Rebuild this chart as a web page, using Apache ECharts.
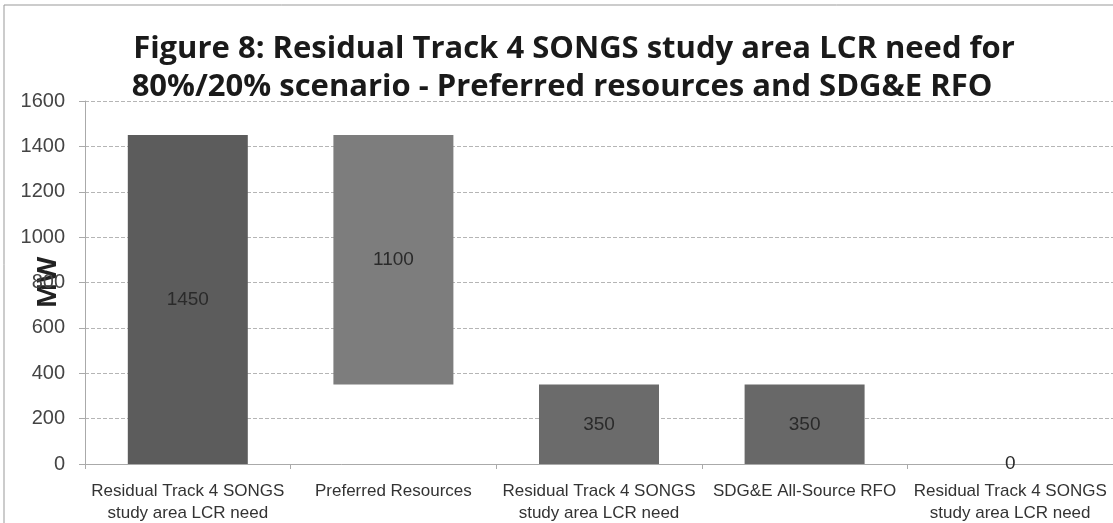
<!DOCTYPE html>
<html>
<head>
<meta charset="utf-8">
<script src="https://cdn.jsdelivr.net/npm/echarts@6/dist/echarts.min.js"></script>
<style>
	html, body { margin: 0; padding: 0; background: #fff; }
	#chart { width: 1113px; height: 523px; }
</style>
</head>
<body>
<div id="chart"></div>
<script>
// categories (x axis)
var categories = [
	'Residual Track 4 SONGS\nstudy area LCR need',
	'Preferred Resources',
	'Residual Track 4 SONGS\nstudy area LCR need',
	'SDG&E All-Source RFO',
	'Residual Track 4 SONGS\nstudy area LCR need'
];
// invisible base of each waterfall step
var baseValues = [0, 350, 0, 0, 0];
// visible step heights
var stepValues = [1450, 1100, 350, 350, 0];
// y tick labels
var yTicks = [0, 200, 400, 600, 800, 1000, 1200, 1400, 1600];

var barColors = ['#5c5c5c', '#7d7d7d', '#6b6b6b', '#686868', '#686868'];
var fontFam = '"Liberation Sans Narrow", "Liberation Sans", sans-serif';
var titleStyle = {
	fontFamily: '"Open Sans", "Noto Sans", sans-serif',
	fontWeight: 'bold',
	fontSize: 31,
	lineHeight: 38,
	color: '#1a1a1a'
};

var myChart = echarts.init(document.getElementById('chart'));

var option = {
	backgroundColor: '#fff',
	animation: false,
	title: [{
		text: 'Figure 8: Residual Track 4 SONGS study area LCR need for',
		left: 569,
		top: 25,
		textAlign: 'center',
		textStyle: titleStyle
	}, {
		text: '80%/20% scenario - Preferred resources and SDG&E RFO',
		left: 557,
		top: 63,
		textAlign: 'center',
		textStyle: titleStyle
	}],
	graphic: [{
		// scanned page frame
		type: 'rect',
		shape: { x: 4, y: 5, width: 1200, height: 600 },
		style: { fill: 'none', stroke: '#999', lineWidth: 1 },
		silent: true
	}],
	grid: {
		left: 85,
		right: 0,
		top: 101,
		bottom: 59,
		containLabel: false,
		outerBoundsMode: 'none'
	},
	xAxis: {
		type: 'category',
		data: categories,
		axisLine: { show: true, lineStyle: { color: '#aaa', width: 1 } },
		axisTick: { show: true, length: 5, lineStyle: { color: '#aaa' } },
		axisLabel: {
			interval: 0,
			margin: 16,
			fontFamily: fontFam,
			fontSize: 17,
			lineHeight: 22,
			color: '#333'
		}
	},
	yAxis: {
		type: 'value',
		min: yTicks[0],
		max: yTicks[yTicks.length - 1],
		interval: 200,
		name: 'MW',
		nameLocation: 'middle',
		nameGap: 23,
		nameRotate: 90,
		nameMoveOverlap: false,
		nameTextStyle: {
			fontFamily: '"Open Sans", "Noto Sans", sans-serif',
			fontWeight: 'bold',
			fontSize: 27,
			color: '#222'
		},
		axisLine: { show: true, lineStyle: { color: '#aaa', width: 1 } },
		axisTick: { show: true, length: 6, lineStyle: { color: '#aaa' } },
		axisLabel: {
			margin: 20,
			fontFamily: fontFam,
			fontSize: 20,
			color: '#444',
			formatter: function (v) { return String(v); }
		},
		splitLine: {
			show: true,
			lineStyle: { color: '#b5b5b5', type: 'dashed', width: 1 }
		}
	},
	series: [{
		name: 'base',
		type: 'bar',
		stack: 'wf',
		barWidth: 120,
		itemStyle: { color: 'transparent' },
		emphasis: { disabled: true },
		data: baseValues
	}, {
		name: 'step',
		type: 'bar',
		stack: 'wf',
		barWidth: 120,
		data: stepValues.map(function (v, i) {
			return { value: v, itemStyle: { color: barColors[i] } };
		}),
		label: {
			show: true,
			position: 'inside',
			fontFamily: fontFam,
			fontSize: 19,
			color: '#2a2a2a'
		}
	}]
};

myChart.setOption(option);
</script>
</body>
</html>
